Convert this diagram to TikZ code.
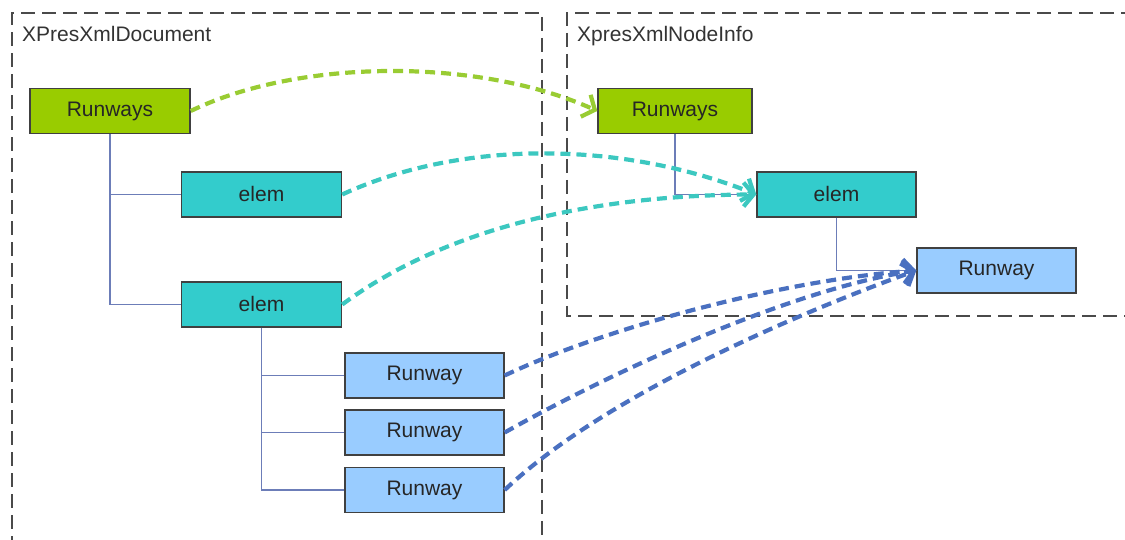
\documentclass[tikz,border=0pt]{standalone}
\usepackage{fontspec}
\setmainfont{Liberation Sans}
\usetikzlibrary{arrows.meta}
\definecolor{gfill}{HTML}{99CC00}
\definecolor{tfill}{HTML}{33CCCC}
\definecolor{bfill}{HTML}{99CCFF}
\definecolor{garr}{HTML}{99CC33}
\definecolor{tarr}{HTML}{3CC8C0}
\definecolor{barr}{HTML}{4A70C0}
\definecolor{treecol}{HTML}{6C7DB8}
\definecolor{framecol}{HTML}{4A4A4A}
\tikzset{
  boxbase/.style={draw=black!75, line width=1.4pt, minimum height=45pt, inner sep=0pt,
    font=\fontsize{21}{25}\selectfont, text=black!85},
  gbox/.style={boxbase, fill=gfill, minimum width=160pt},
  tbox/.style={boxbase, fill=tfill, minimum width=160pt},
  bbox/.style={boxbase, fill=bfill, minimum width=159pt},
  framebox/.style={draw=framecol, line width=2pt, dash pattern=on 14pt off 7pt},
  framelabel/.style={anchor=base west, inner sep=0pt, font=\fontsize{21}{25}\selectfont, text=black!80},
  treeline/.style={draw=treecol, line width=1.1pt},
  maparrow/.style={line width=4.2pt, dash pattern=on 10pt off 6pt,
    -{Straight Barb[length=10pt,width=24pt,line width=4.2pt]}},
}
\begin{document}
\begin{tikzpicture}[x=1pt,y=1pt]
\useasboundingbox (0,0) rectangle (1125,540);
% frames
\draw[framebox] (12,-10) -- (12,527) -- (542,527) -- (542,-10);
\draw[framebox] (1135,527) -- (567,527) -- (567,224) -- (1135,224);
\node[framelabel] (lblL) at (22,498) {XPresXmlDocument};
\node[framelabel] (lblR) at (577,498) {XpresXmlNodeInfo};
% left tree nodes
\node[gbox] (RwL) at (110,429) {Runways};
\node[tbox] (E1L) at (261.5,345.5) {elem};
\node[tbox] (E2L) at (261.5,235.5) {elem};
\node[bbox] (R1) at (424.5,164.5) {Runway};
\node[bbox] (R2) at (424.5,107.5) {Runway};
\node[bbox] (R3) at (424.5,50) {Runway};
% right tree nodes
\node[gbox, minimum width=154pt] (RwR) at (675,429) {Runways};
\node[tbox, minimum width=159pt] (ER) at (836.5,345.5) {elem};
\node[bbox] (RR) at (996.5,269.5) {Runway};
% tree lines
\draw[treeline] (RwL.south) |- (E2L.west);
\draw[treeline] (RwL.south |- E1L.west) -- (E1L.west);
\draw[treeline] (E2L.south) |- (R3.west);
\draw[treeline] (E2L.south |- R1.west) -- (R1.west);
\draw[treeline] (E2L.south |- R2.west) -- (R2.west);
\draw[treeline] (RwR.south) |- (ER.west);
\draw[treeline] (ER.south) |- (RR.west);
% mapping arrows
\draw[maparrow, garr] (RwL.east) .. controls (300,482) and (480,482) .. (RwR.west);
\draw[maparrow, tarr] (E1L.east) .. controls (460,400) and (620,400) .. (ER.west);
\draw[maparrow, tarr] (E2L.east) .. controls (450,315) and (600,345) .. (ER.west);
\draw[maparrow, barr] (R1.east) .. controls (600,210) and (780,260) .. (RR.west);
\draw[maparrow, barr] (R2.east) .. controls (630,178) and (800,252) .. (RR.west);
\draw[maparrow, barr] (R3.east) .. controls (610,150) and (820,235) .. (RR.west);
\end{tikzpicture}
\end{document}
